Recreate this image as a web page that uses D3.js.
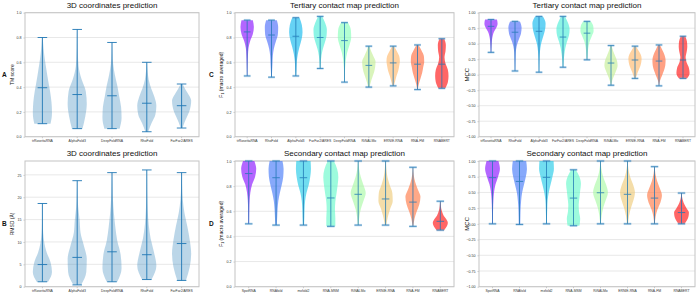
<!DOCTYPE html>
<html><head><meta charset="utf-8">
<script src="https://cdn.jsdelivr.net/npm/d3@7"></script>
<style>
html,body{margin:0;padding:0;background:#fff;}
svg{display:block;font-family:"Liberation Sans",Arial,sans-serif;}
</style></head>
<body><svg id="c" width="696" height="293"></svg>
<script>
// ---------------- DATA ----------------
// Panel A: 3D coordinates prediction, TM score
const catsA = ["trRosettaRNA","AlphaFold3","DeepFoldRNA","RhoFold","FarFar2/ARES"];
const minA = [0.105,0.065,0.065,0.04,0.07];
const maxA = [0.80,0.865,0.76,0.60,0.425];
const medA = [0.395,0.34,0.33,0.27,0.25];
const densA = [
  [0.85,1.0,0.95,0.8,0.6,0.42,0.25,0.12,0.04],
  [0.55,0.85,1.0,0.9,0.45,0.15,0.07,0.04,0.02],
  [0.8,1.0,0.95,0.75,0.55,0.3,0.12,0.05,0.02],
  [0.15,0.5,0.9,1.0,0.8,0.45,0.2,0.08,0.02],
  [0.1,0.3,0.55,0.8,0.95,1.0,0.75,0.4,0.1]
];
// Panel B: 3D coordinates prediction, RMSD
const catsB = catsA;
const minB = [1.1,0.4,1.1,1.6,1.4];
const maxB = [18.6,23.7,25.5,26.1,25.5];
const medB = [4.95,6.55,7.8,7.15,9.65];
const densB = [
  [0.6,1.0,0.85,0.45,0.2,0.08,0.04,0.02,0.01],
  [0.4,0.95,1.0,0.7,0.35,0.25,0.1,0.04,0.02],
  [0.55,1.0,0.9,0.55,0.35,0.2,0.1,0.05,0.02],
  [0.5,1.0,0.75,0.4,0.2,0.1,0.05,0.03,0.02],
  [0.45,0.85,1.0,0.85,0.6,0.3,0.12,0.05,0.02]
];
// Panel C: tertiary contact map, F1
const catsC = ["trRosettaRNA","RhoFold","AlphaFold3","FarFar2/ARES","DeepFoldRNA","RiNALMo","ERNIE-RNA","RNA-FM","RNABERT"];
const minC = [0.49,0.48,0.49,0.55,0.44,0.40,0.41,0.38,0.39];
const maxC = [0.94,0.94,0.96,0.97,0.92,0.73,0.73,0.74,0.79];
const medC = [0.845,0.82,0.81,0.80,0.775,0.575,0.595,0.585,0.585];
const densC = [
  [0.03,0.05,0.08,0.12,0.2,0.45,0.85,1.0,0.85],
  [0.05,0.1,0.15,0.2,0.35,0.65,0.95,1.0,0.8],
  [0.05,0.1,0.15,0.3,0.55,0.85,1.0,0.9,0.55],
  [0.05,0.1,0.2,0.4,0.7,0.95,1.0,0.75,0.3],
  [0.03,0.05,0.1,0.2,0.4,0.75,1.0,0.95,0.5],
  [0.1,0.3,0.55,0.8,0.95,1.0,0.7,0.35,0.1],
  [0.1,0.3,0.5,0.75,0.9,1.0,0.9,0.55,0.15],
  [0.05,0.2,0.45,0.7,0.85,1.0,0.95,0.6,0.15],
  [0.5,0.9,1.0,0.9,0.55,0.4,0.55,0.6,0.35]
];
// Panel D: secondary contact map, F1
const catsD = ["SpotRNA","RNAfold","mxfold2","RNA-MSM","RiNALMo","ERNIE-RNA","RNA-FM","RNABERT"];
const minD = [0.50,0.49,0.49,0.48,0.49,0.49,0.48,0.45];
const maxD = [1.0,1.0,1.0,1.0,1.0,1.0,0.95,0.68];
const medD = [0.90,0.867,0.867,0.706,0.735,0.698,0.673,0.52];
const densD = [
  [0.05,0.06,0.08,0.12,0.22,0.45,0.85,1.0,0.75],
  [0.1,0.15,0.2,0.3,0.5,0.75,0.95,1.0,0.85],
  [0.08,0.12,0.15,0.22,0.4,0.7,0.9,1.0,0.95],
  [0.6,0.6,0.55,0.6,0.75,0.9,1.0,0.85,0.4],
  [0.05,0.15,0.35,0.7,1.0,0.7,0.35,0.12,0.03],
  [0.1,0.3,0.6,0.95,0.9,0.55,0.25,0.1,0.03],
  [0.05,0.2,0.5,0.85,1.0,0.65,0.3,0.1,0.03],
  [0.5,0.85,1.0,0.8,0.45,0.25,0.12,0.06,0.03]
];
// Panel E: tertiary contact map, MCC
const catsE = catsC;
const minE = [0.36,0.06,0.04,0.12,0.24,-0.17,-0.06,-0.18,-0.06];
const maxE = [0.89,0.86,0.94,0.94,0.86,0.47,0.46,0.48,0.62];
const medE = [0.78,0.685,0.70,0.607,0.67,0.188,0.237,0.22,0.237];
const densE = [
  [0.03,0.06,0.1,0.15,0.25,0.45,0.8,1.0,0.9],
  [0.03,0.05,0.08,0.12,0.25,0.55,0.9,1.0,0.75],
  [0.03,0.05,0.08,0.15,0.3,0.6,0.9,1.0,0.6],
  [0.05,0.1,0.2,0.35,0.6,0.9,1.0,0.75,0.3],
  [0.05,0.1,0.15,0.25,0.45,0.75,1.0,0.95,0.6],
  [0.05,0.2,0.5,0.8,1.0,0.9,0.6,0.3,0.08],
  [0.1,0.3,0.55,0.8,0.95,1.0,0.85,0.5,0.15],
  [0.03,0.15,0.45,0.75,0.95,1.0,0.85,0.5,0.15],
  [0.6,1.0,0.9,0.55,0.4,0.55,0.65,0.6,0.35]
];
// Panel F: secondary contact map, MCC
const catsF = catsD;
const minF = [0.0,-0.01,0.0,-0.03,0.0,0.0,0.0,0.0];
const maxF = [1.0,1.0,1.0,0.86,1.0,1.0,0.91,0.49];
const medF = [0.735,0.675,0.74,0.41,0.495,0.47,0.41,0.18];
const densF = [
  [0.05,0.06,0.08,0.12,0.2,0.4,0.75,1.0,0.8],
  [0.1,0.12,0.15,0.22,0.35,0.6,0.85,1.0,0.9],
  [0.05,0.07,0.1,0.15,0.3,0.55,0.8,1.0,0.95],
  [0.8,0.9,0.75,0.7,0.8,0.9,1.0,0.8,0.3],
  [0.05,0.15,0.35,0.7,1.0,0.75,0.35,0.12,0.03],
  [0.08,0.2,0.45,0.8,1.0,0.75,0.35,0.12,0.03],
  [0.05,0.15,0.4,0.8,1.0,0.7,0.35,0.12,0.03],
  [0.4,0.75,0.95,1.0,0.7,0.4,0.2,0.08,0.03]
];
const ticks01 = [0,0.2,0.4,0.6,0.8,1.0];
const ticksRMSD = [0,5,10,15,20,25];
const ticksMCC = [-1,-0.75,-0.5,-0.25,0,0.25,0.5,0.75,1];

// ---------------- DRAW ----------------
const svg = d3.select("#c");
const C0 = "#1f77b4";

function panel(o){
  const g = svg.append("g");
  const x = d3.scaleBand().domain(o.cats).range([o.x0,o.x1]);
  const y = d3.scaleLinear().domain(o.dom).range([o.y1,o.y0]);
  g.selectAll(".grid").data(o.ticks).join("line")
    .attr("x1",o.x0).attr("x2",o.x1)
    .attr("y1",d=>y(d)).attr("y2",d=>y(d))
    .attr("stroke","#e2e2e2").attr("stroke-width",0.8);
  const ya = g.append("g").attr("transform",`translate(${o.x0},0)`)
    .call(d3.axisLeft(y).tickValues(o.ticks).tickSize(1.5).tickPadding(2).tickFormat(o.fmt));
  ya.select(".domain").remove();
  ya.selectAll("line").attr("stroke","#999").attr("stroke-width",0.5);
  ya.selectAll("text").attr("font-size",3.6).attr("fill","#333");
  const xa = g.append("g").attr("transform",`translate(0,${o.y1})`)
    .call(d3.axisBottom(x).tickSize(1.5).tickPadding(1.5));
  xa.select(".domain").remove();
  xa.selectAll("line").attr("stroke","#999").attr("stroke-width",0.5);
  xa.selectAll("text").attr("font-size",3.4).attr("fill","#333");
  g.append("rect").attr("x",o.x0).attr("y",o.y0).attr("width",o.x1-o.x0).attr("height",o.y1-o.y0)
    .attr("fill","none").attr("stroke","#c4c4c4").attr("stroke-width",1);

  const bw = x.bandwidth();
  const half = bw*0.55/2;
  const cap = half*0.5;
  const area = d3.area().curve(d3.curveMonotoneY).y(d=>y(d.v));
  o.cats.forEach((c,i)=>{
    const cx = x(c)+bw/2;
    const n = o.dens[i].length;
    const pts = o.dens[i].map((w,k)=>({v:o.min[i]+k*(o.max[i]-o.min[i])/(n-1), w}));
    area.x0(d=>cx-d.w*half).x1(d=>cx+d.w*half);
    g.append("path").attr("d",area(pts))
      .attr("fill",o.colors?o.colors[i]:C0)
      .attr("fill-opacity",o.colors?0.6:0.3);
    const lg = g.append("g").attr("stroke",C0).attr("opacity",o.colors?0.85:1);
    if(o.colors){
      [o.min[i],o.max[i]].forEach(v=>{
        lg.append("line").attr("x1",cx-cap).attr("x2",cx+cap).attr("y1",y(v)).attr("y2",y(v))
          .attr("stroke","#7fb6e0").attr("stroke-width",2.4).attr("opacity",0.5);
      });
    }
    lg.append("line").attr("x1",cx).attr("x2",cx).attr("y1",y(o.min[i])).attr("y2",y(o.max[i])).attr("stroke-width",0.9);
    [o.min[i],o.max[i],o.med[i]].forEach(v=>{
      lg.append("line").attr("x1",cx-cap).attr("x2",cx+cap).attr("y1",y(v)).attr("y2",y(v)).attr("stroke-width",0.9);
    });
  });
  svg.append("text").attr("x",(o.x0+o.x1)/2).attr("y",o.y0-4.6)
    .attr("text-anchor","middle").attr("font-size",8).attr("fill","#111").text(o.title);
  const yl = svg.append("text").attr("transform",`translate(${o.ylx},${(o.y0+o.y1)/2}) rotate(-90)`)
    .attr("text-anchor","middle").attr("font-size",o.ylfs).attr("fill","#111");
  if(o.ylabel==="F1"){
    yl.append("tspan").text("F");
    yl.append("tspan").attr("font-size",o.ylfs*0.7).attr("dy",1.2).text("1");
    yl.append("tspan").attr("dy",-1.2).text(" (macro averaged)");
  } else yl.text(o.ylabel);
  if(o.label){
    svg.append("text").attr("x",o.lx).attr("y",(o.y0+o.y1)/2+2.5).attr("font-size",6.5)
      .attr("font-weight","bold").attr("fill","#111").text(o.label);
  }
}
const rainbow = k=>d3.range(k).map(i=>{
  const t=i/(k-1);
  const r=Math.min(1,Math.abs(2*t-0.5)), g=Math.sin(Math.PI*t), b=Math.cos(Math.PI*t/2);
  return d3.rgb(r*255,g*255,b*255).formatHex();
});
const f1 = d=>d3.format(".1f")(d);
const f0 = d=>d3.format("d")(d);
const f2 = d=>d3.format(".2f")(d);
const rowTop = {y0:12.7,y1:136.7}, rowBot = {y0:161,y1:286.7};
panel({...rowTop,x0:25,x1:199,cats:catsA,min:minA,max:maxA,med:medA,dens:densA,dom:[0,1],ticks:ticks01,fmt:f1,
  title:"3D coordinates prediction",ylabel:"TM score",ylx:14,ylfs:5,label:"A",lx:2});
panel({...rowBot,x0:25,x1:199,cats:catsB,min:minB,max:maxB,med:medB,dens:densB,dom:[0,28.1],ticks:ticksRMSD,fmt:f0,
  title:"3D coordinates prediction",ylabel:"RMSD (Å)",ylx:14,ylfs:5,label:"B",lx:2});
panel({...rowTop,x0:235,x1:454,cats:catsC,min:minC,max:maxC,med:medC,dens:densC,dom:[0,1],ticks:ticks01,fmt:f1,
  title:"Tertiary contact map prediction",ylabel:"F1",ylx:223,ylfs:5,label:"C",lx:209,colors:rainbow(9)});
panel({...rowBot,x0:235,x1:454,cats:catsD,min:minD,max:maxD,med:medD,dens:densD,dom:[0,1],ticks:ticks01,fmt:f1,
  title:"Secondary contact map prediction",ylabel:"F1",ylx:223,ylfs:5,label:"D",lx:209,colors:rainbow(8)});
panel({...rowTop,x0:479,x1:695,cats:catsE,min:minE,max:maxE,med:medE,dens:densE,dom:[-1,1],ticks:ticksMCC,fmt:f2,
  title:"Tertiary contact map prediction",ylabel:"MCC",ylx:469,ylfs:6,colors:rainbow(9)});
panel({...rowBot,x0:479,x1:695,cats:catsF,min:minF,max:maxF,med:medF,dens:densF,dom:[-1,1],ticks:ticksMCC,fmt:f2,
  title:"Secondary contact map prediction",ylabel:"MCC",ylx:469,ylfs:6,colors:rainbow(8)});
</script></body></html>
